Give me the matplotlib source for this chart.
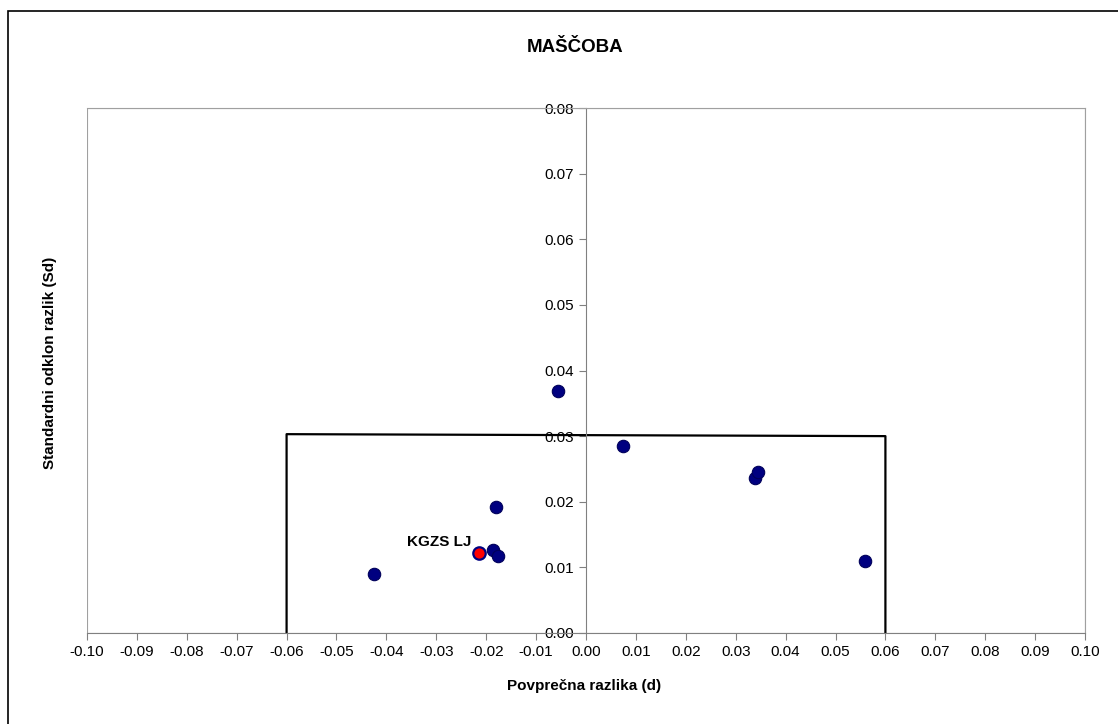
import matplotlib
matplotlib.use("Agg")
import matplotlib.pyplot as plt
from matplotlib.patches import Rectangle

plt.rcParams['font.family'] = ['Liberation Sans', 'DejaVu Sans']

# podatki (odčitani s slike)
d_vals = [-0.0425, -0.0186, -0.0176, -0.0180, -0.0056, 0.0074, 0.0339, 0.0345, 0.0559]
sd_vals = [0.0090, 0.0126, 0.0117, 0.0192, 0.0369, 0.0285, 0.0236, 0.0245, 0.0110]
lab_d = [-0.0214]
lab_sd = [0.0122]
lab_ime = "KGZS LJ"

# meje (okvir)
meja_x = [-0.06, -0.06, 0.06, 0.06]
meja_y = [0.0, 0.0303, 0.0300, 0.0]

x_ticks = [i / 100 for i in range(-10, 11)]
y_ticks = [i / 100 for i in range(0, 9)]

fig = plt.figure(figsize=(11.18, 7.24), dpi=100)
# zunanji okvir (desni in spodnji rob sta odrezana)
fig.patches.append(Rectangle((7.5 / 1118, -0.1), 1.2, 1.1 - 11.5 / 724, transform=fig.transFigure,
                             fill=False, edgecolor='black', linewidth=1.2))
ax = fig.add_axes([0.0778, 0.1257, 0.8927, 0.7251])

ax.plot(meja_x, meja_y, color='black', linewidth=1.6, zorder=2)
ax.scatter(d_vals, sd_vals, s=80, color='#000080', edgecolors='#00005a', linewidths=0.8, zorder=3)
ax.scatter(lab_d, lab_sd, s=80, color='#ff0000', edgecolors='#000080', linewidths=1.6, zorder=4)
ax.annotate(lab_ime, (lab_d[0], lab_sd[0]), xytext=(-6, 3), textcoords='offset points',
            ha='right', va='bottom', fontsize=11, fontweight='bold')

ax.set_xlim(-0.10, 0.10)
ax.set_ylim(0, 0.08)
ax.set_xticks(x_ticks)
ax.set_xticklabels(['%.2f' % v for v in x_ticks])
ax.set_yticks(y_ticks)
ax.set_yticklabels(['%.2f' % v for v in y_ticks])

ax.spines['left'].set_position(('data', 0))
ax.spines['bottom'].set_position(('data', 0))
ax.spines['left'].set_color('#808080')
ax.spines['bottom'].set_color('#808080')
ax.spines['right'].set_color('#a0a0a0')
ax.spines['top'].set_color('#a0a0a0')
ax.spines['right'].set_linewidth(0.8)
ax.spines['top'].set_linewidth(0.8)

# sivi okvir okoli risalne površine
ax.add_patch(Rectangle((0, 0), 1, 1, transform=ax.transAxes, fill=False,
                       edgecolor='#a0a0a0', linewidth=0.8, zorder=0))

ax.tick_params(axis='both', direction='out', length=5, color='#808080', labelsize=11)

fig.text(575 / 1118, 1 - 48 / 724, 'MAŠČOBA', ha='center', va='center',
         fontsize=13.5, fontweight='bold')
fig.text(584 / 1118, 1 - 686 / 724, 'Povprečna razlika (d)', ha='center', va='center',
         fontsize=11, fontweight='bold')
fig.text(50 / 1118, 1 - 363 / 724, 'Standardni odklon razlik (Sd)', ha='center', va='center',
         rotation=90, fontsize=11, fontweight='bold')

fig.savefig('out.png', dpi=100)
